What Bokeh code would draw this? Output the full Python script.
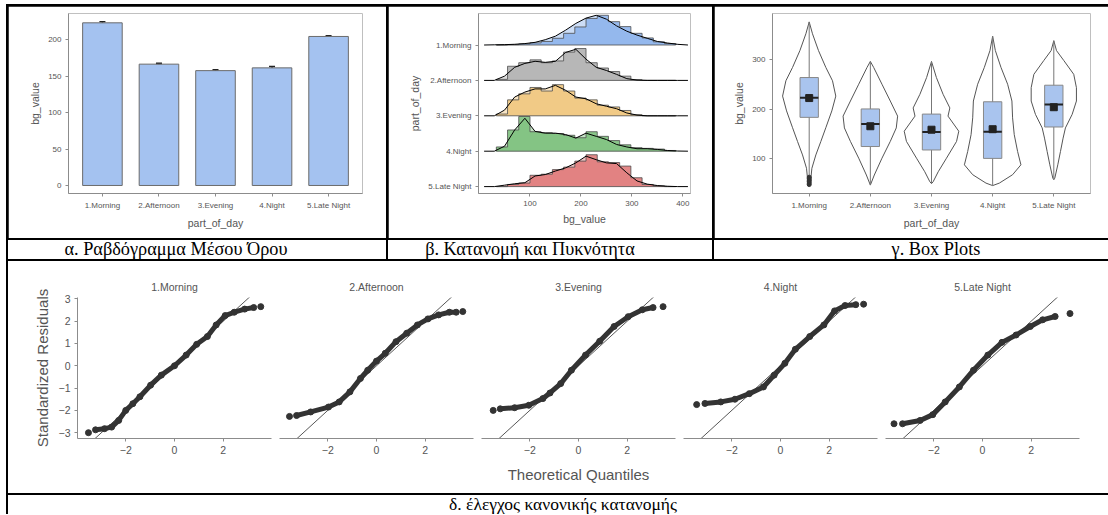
from bokeh.plotting import figure
from bokeh.layouts import row, column
from bokeh.models import Div, FixedTicker, Range1d, ColumnDataSource, Whisker, TeeHead
from bokeh.embed import file_html
from bokeh.resources import INLINE

# ---------------- data ----------------
cats = ["1.Morning", "2.Afternoon", "3.Evening", "4.Night", "5.Late Night"]
cat_pos = [1, 2, 3, 4, 5]

# (a) bar chart of means
bar_means = [223.2, 166.5, 157.6, 161.4, 204.5]
bar_err = [1.5, 1.3, 1.2, 2.0, 1.0]

# (b) ridgeline: density curves on a common grid, histogram heights on common bins
ridge_grid = [10, 30, 50, 70, 90, 110, 130, 150, 170, 190, 210, 230, 250, 270, 290, 310, 330, 350, 370, 390, 410]
dens_morning = [0, .005, .01, .02, .04, .075, .15, .25, .42, .61, .76, .84, .73, .54, .39, .28, .19, .10, .056, .019, 0]
dens_afternoon = [0, 0, .12, .37, .48, .54, .51, .54, .79, .88, .60, .37, .28, .17, .05, .01, 0, 0, 0, 0, 0]
dens_evening = [0, 0, .16, .53, .67, .76, .76, .86, .72, .53, .48, .34, .27, .20, .08, .02, 0, 0, 0, 0, 0]
dens_night = [0, 0, .14, .60, .93, .56, .51, .51, .47, .37, .51, .42, .33, .19, .12, .07, .07, .05, .02, .005, 0]
dens_late = [0, 0, .04, .08, .11, .30, .34, .44, .53, .67, .86, .76, .67, .65, .39, .16, .07, .03, .01, 0, 0]

hist_edges = [34, 56, 78, 100, 122, 144, 166, 188, 210, 232, 254, 276, 298, 320, 342, 364, 386]
hist_morning = [0, .01, .03, .06, .10, .19, .33, .51, .75, .84, .66, .52, .33, .20, .09, .04]
hist_afternoon = [.03, .40, .50, .58, .50, .55, .80, .90, .50, .35, .25, .12, .02, 0, 0, 0]
hist_evening = [.05, .45, .62, .80, .70, .88, .70, .50, .45, .30, .25, .15, .03, 0, 0, 0]
hist_night = [.12, .60, .98, .55, .52, .50, .45, .38, .55, .42, .30, .18, .10, .08, .06, .02]
hist_late = [0, .06, .10, .32, .35, .48, .55, .72, .90, .70, .68, .58, .25, .06, .02, 0]
ridge_colors = ["#8EB4EC", "#B3B3B3", "#EFC67E", "#7DC07D", "#E07B7B"]

# (c) violins (value, half-width in category units) and box statistics
vio_y = [
    [377, 353, 319, 285, 258, 227, 197, 163, 135, 108, 81, 54, 48],
    [297, 285, 251, 217, 186.5, 162.6, 135.4, 101.4, 67.4, 47],
    [297, 264.5, 230.5, 203, 186.5, 156, 135.4, 101.4, 74, 53.8, 50],
    [348, 319, 285, 251, 217, 183, 149, 115, 88, 68, 51, 46],
    [339, 319, 299, 271, 244, 217, 190, 162.6, 142, 115, 88, 61, 58],
]
vio_w = [
    [0, .054, .152, .272, .381, .435, .37, .272, .19, .109, .044, .022, 0],
    [0, .054, .19, .326, .446, .424, .326, .19, .065, 0],
    [0, .08, .19, .30, .27, .446, .41, .245, .11, .027, 0],
    [0, .044, .136, .245, .315, .326, .353, .408, .462, .326, .109, 0],
    [0, .044, .163, .326, .37, .37, .30, .19, .152, .109, .065, .016, 0],
]
box_q1 = [184, 125, 118, 101, 164.5]
box_med = [223.7, 170.6, 154.3, 155, 210]
box_q3 = [264.5, 201, 190.6, 215.5, 249]
box_mean = [223, 166, 159, 160, 204.5]
morning_outliers = [48, 51, 54, 57, 60, 63]

# (d) QQ plots: theoretical quantile vs standardized residual
qq_x = [
    [-3.53, -3.24, -2.87, -2.58, -2.29, -2.0, -1.71, -1.42, -0.98, -0.54, 0, 0.48, 0.91, 1.35, 1.71, 2.08, 2.45, 2.88, 3.25, 3.54],
    [-3.57, -3.28, -2.7, -1.97, -1.53, -1.09, -0.66, -0.36, 0, 0.36, 0.8, 1.24, 1.68, 2.11, 2.55, 2.99, 3.27, 3.54],
    [-3.5, -3.21, -2.62, -2.04, -1.46, -1.17, -0.73, -0.29, 0.29, 0.87, 1.46, 2.04, 2.62, 3.06, 3.47],
    [-3.44, -3.1, -2.45, -1.87, -1.28, -0.7, -0.26, 0.18, 0.61, 1.2, 1.78, 2.22, 2.65, 3.09, 3.41],
    [-3.63, -3.28, -2.56, -2.04, -1.53, -0.95, -0.37, 0.22, 0.8, 1.38, 1.96, 2.47, 2.98, 3.59],
]
qq_y = [
    [-3.0, -2.87, -2.82, -2.75, -2.45, -2.0, -1.7, -1.39, -0.87, -0.42, 0, 0.48, 0.96, 1.31, 1.83, 2.25, 2.4, 2.54, 2.61, 2.65],
    [-2.27, -2.23, -2.07, -1.85, -1.62, -1.17, -0.57, -0.2, 0.21, 0.56, 1.08, 1.46, 1.83, 2.1, 2.28, 2.4, 2.4, 2.43],
    [-2.0, -1.93, -1.88, -1.77, -1.47, -1.22, -0.8, -0.2, 0.48, 1.1, 1.76, 2.2, 2.51, 2.61, 2.65],
    [-1.74, -1.69, -1.62, -1.5, -1.25, -0.95, -0.42, 0.11, 0.74, 1.31, 1.83, 2.46, 2.7, 2.74, 2.76],
    [-2.6, -2.6, -2.45, -2.19, -1.62, -0.95, -0.2, 0.48, 1.05, 1.38, 1.76, 2.06, 2.21, 2.34],
]

captions_top = ["α. Ραβδόγραμμα Μέσου Όρου", "β. Κατανομή και Πυκνότητα", "γ. Box Plots"]
caption_bottom = "δ. έλεγχος κανονικής κατανομής"

# ---------------- helpers ----------------
FONT = "Liberation Sans"
AX = "#8c8c8c"
TXT = "#555555"


def mkfig(w, h, xr, yr, l, r, t, b, **kw):
    p = figure(width=w, height=h, x_range=Range1d(*xr), y_range=Range1d(*yr),
               output_backend="svg", toolbar_location=None,
               min_border_left=l, min_border_right=r, min_border_top=t, min_border_bottom=b,
               margin=0, **kw)
    p.outline_line_color = None
    p.outline_line_alpha = 0
    p.xgrid.visible = False
    p.ygrid.visible = False
    p.background_fill_color = "white"
    p.border_fill_color = "white"
    return p


def style_axes(p, tick_size="8px", label_size="10.5px", label_standoff=4):
    for ax in p.axis:
        ax.axis_line_color = AX
        ax.major_tick_line_color = AX
        ax.minor_tick_line_color = None
        ax.major_tick_in = 0
        ax.major_tick_out = 3
        ax.major_label_text_font = FONT
        ax.major_label_text_font_size = tick_size
        ax.major_label_text_color = TXT
        ax.axis_label_text_font = FONT
        ax.axis_label_text_font_size = label_size
        ax.axis_label_text_font_style = "normal"
        ax.axis_label_text_color = TXT
        ax.axis_label_standoff = label_standoff
        ax.major_label_standoff = 4


def cat_axis(ax):
    ax.ticker = FixedTicker(ticks=cat_pos)
    ax.major_label_overrides = {k: v for k, v in zip(cat_pos, cats)}


# ---------------- (a) bar chart ----------------
p1 = mkfig(378, 232, (0.4, 5.6), (-11, 236), 60, 24, 7, 39)
p1.vbar(x=cat_pos, top=bar_means, width=0.7, bottom=0, fill_color="#A4C2F0",
        line_color="#6b6b6b", line_width=1)
src_err = ColumnDataSource(dict(x=cat_pos, lo=[m - e for m, e in zip(bar_means, bar_err)],
                                hi=[m + e for m, e in zip(bar_means, bar_err)]))
p1.add_layout(Whisker(source=src_err, base="x", lower="lo", upper="hi", line_color="#222222",
                      line_width=1.5,
                      upper_head=TeeHead(size=6, line_color="#222222", line_width=1.5),
                      lower_head=TeeHead(size=6, line_color="#222222", line_width=1.5)))
style_axes(p1)
cat_axis(p1.xaxis[0])
p1.yaxis.ticker = FixedTicker(ticks=[0, 50, 100, 150, 200])
p1.xaxis.axis_label = "part_of_day"
p1.yaxis.axis_label = "bg_value"

# ---------------- (b) ridgeline ----------------
p2 = mkfig(324, 232, (-1, 415), (0.805, 5.89), 90, 22, 7, 43)
dens_all = [dens_morning, dens_afternoon, dens_evening, dens_night, dens_late]
hist_all = [hist_morning, hist_afternoon, hist_evening, hist_night, hist_late]
bases = [5, 4, 3, 2, 1]
for dens, hist, base, col in zip(dens_all, hist_all, bases, ridge_colors):
    px = list(ridge_grid) + [ridge_grid[-1], ridge_grid[0]]
    py = [base + d for d in dens] + [base, base]
    p2.patch(px, py, fill_color=col, fill_alpha=0.45, line_color=None)
    hx = [hist_edges[0]]
    hy = [base]
    for i, h in enumerate(hist):
        hx += [hist_edges[i], hist_edges[i + 1]]
        hy += [base + h, base + h]
    hx.append(hist_edges[-1])
    hy.append(base)
    p2.patch(hx, hy, fill_color=col, fill_alpha=0.9, line_color="#4d4d4d", line_width=0.8)
    p2.line(ridge_grid, [base + d for d in dens], line_color="black", line_width=1)
style_axes(p2)
p2.xaxis.ticker = FixedTicker(ticks=[100, 200, 300, 400])
p2.yaxis.ticker = FixedTicker(ticks=bases)
p2.yaxis.major_label_overrides = {b: c for b, c in zip(bases, cats)}
p2.xaxis.axis_label = "bg_value"
p2.yaxis.axis_label = "part_of_day"

# ---------------- (c) violin + box ----------------
p3 = mkfig(394, 232, (0.4, 5.6), (30, 394), 58, 18, 7, 45)
for pos, ys, ws in zip(cat_pos, vio_y, vio_w):
    vx = [pos + w for w in ws] + [pos - w for w in reversed(ws)]
    vy = list(ys) + list(reversed(ys))
    p3.patch(vx, vy, fill_color="white", line_color="#555555", line_width=1)
    p3.segment(x0=[pos], y0=[min(ys)], x1=[pos], y1=[max(ys)], line_color="#777777", line_width=1)
p3.scatter([1] * len(morning_outliers), morning_outliers, size=4, color="#333333")
p3.quad(left=[c - 0.15 for c in cat_pos], right=[c + 0.15 for c in cat_pos], bottom=box_q1, top=box_q3,
        fill_color="#A9C4EE", line_color="#888888", line_width=1)
p3.segment(x0=[c - 0.15 for c in cat_pos], x1=[c + 0.15 for c in cat_pos], y0=box_med, y1=box_med,
           line_color="#222222", line_width=2)
p3.scatter(cat_pos, box_mean, marker="square", size=7, color="#222222")
style_axes(p3)
cat_axis(p3.xaxis[0])
p3.yaxis.ticker = FixedTicker(ticks=[100, 200, 300])
p3.xaxis.axis_label = "part_of_day"
p3.yaxis.axis_label = "bg_value"

# ---------------- (d) QQ plots ----------------
qq_figs = []
widths = [267, 202, 202, 202, 227]
lefts = [69, 4, 4, 4, 4]
rights = [4, 4, 4, 4, 29]
for i in range(5):
    kw = {} if i == 0 else {"y_axis_location": None}
    q = mkfig(widths[i], 232, (-3.98, 3.98), (-3.26, 3.06), lefts[i], rights[i], 36, 55, **kw)
    q.line([-5, 5], [-5, 5], line_color="#444444", line_width=0.9)
    q.line(qq_x[i][1:-1], qq_y[i][1:-1], line_color="#333333", line_width=5)
    q.scatter(qq_x[i], qq_y[i], size=6, color="#333333")
    style_axes(q, tick_size="10.5px", label_size="15px", label_standoff=9)
    q.xaxis.ticker = FixedTicker(ticks=[-2, 0, 2])
    if i == 0:
        q.yaxis.ticker = FixedTicker(ticks=[-3, -2, -1, 0, 1, 2, 3])
        q.yaxis.axis_label = "Standardized Residuals"
        q.yaxis.axis_label_standoff = 5
    if i == 2:
        q.xaxis.axis_label = "Theoretical Quantiles"
    q.title.text = cats[i]
    q.title.align = "center"
    q.title.text_font = FONT
    q.title.text_font_size = "10.5px"
    q.title.text_font_style = "normal"
    q.title.text_color = TXT
    q.title.standoff = 10
    qq_figs.append(q)


# ---------------- captions ----------------
def caption(text, w, h, shift, lh, size):
    html = ('<div style="position:relative; left:%dpx; width:%dpx; text-align:center; '
            'font-family:\'Liberation Serif\',serif; font-size:%spx; line-height:%dpx; '
            'color:black; white-space:nowrap;">%s</div>' % (shift, w, size, lh, text))
    return Div(text=html, width=w, height=h, margin=0,
               styles={"background-color": "white", "overflow": "hidden"})


cap_row = row(caption(captions_top[0], 378, 19, -21, 19, 18.3),
              caption(captions_top[1], 324, 19, -20, 19, 18.3),
              caption(captions_top[2], 394, 19, 25, 19, 18.3), spacing=2, margin=0,
              styles={"background-color": "black"})
top_row = row(p1, p2, p3, spacing=2, margin=0, styles={"background-color": "black"})
qq_row = row(*qq_figs, spacing=0, margin=0, styles={"background-color": "white"})
cap_bottom = caption(caption_bottom, 1100, 19, 5, 19, 17.5)

layout = column(top_row, cap_row, qq_row, cap_bottom, spacing=2, margin=0,
                styles={"background-color": "black", "padding": "2px 0px 0px 2px",
                        "margin-left": "6px", "margin-top": "4px"})

open("out.html", "w").write(file_html(layout, INLINE))
